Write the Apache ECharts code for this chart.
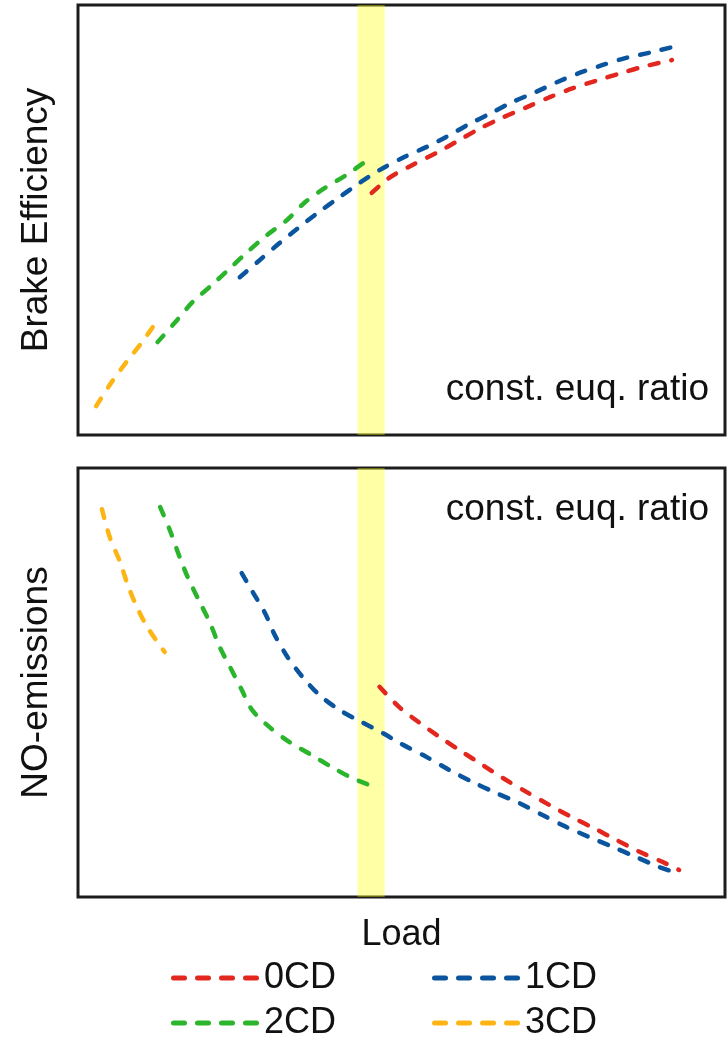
<!DOCTYPE html>
<html><head><meta charset="utf-8">
<script src="https://cdn.jsdelivr.net/npm/echarts@6/dist/echarts.min.js"></script>
<style>html,body{margin:0;padding:0;background:#fff}#c{width:728px;height:1037px}</style>
</head><body><div id="c"></div>
<script>
// Load axis in % of plotted range; responses in % of panel range
const seriesNames = ['0CD','1CD','2CD','3CD'];
const colors = ['#E2271E','#0B559E','#2BB52D','#FDB515'];
const highlightBand = [43.2, 47.4];

// Brake efficiency panel
const beLoad0 = [45.4,48.1,51.7,55.4,58.6,62.0,65.6,69.3,72.8,76.4,80.1,83.6,87.2,91.8];
const beVal0  = [56.3,59.8,62.8,65.6,68.3,71.2,73.8,76.2,78.5,80.6,82.4,84.0,85.6,87.2];
const beLoad1 = [25.0,28.1,31.2,34.0,37.0,40.4,43.5,46.6,50.5,53.9,56.9,60.2,63.9,67.1,70.8,74.1,77.5,81.0,84.7,88.3,91.8];
const beVal1  = [36.7,40.7,44.7,48.1,51.6,55.3,58.6,61.6,64.7,67.0,69.3,72.1,74.9,77.4,79.8,82.1,84.2,86.0,87.7,88.9,90.2];
const beLoad2 = [12.3,15.3,17.7,20.7,23.5,26.2,29.2,32.3,35.0,38.1,41.5,44.8];
const beVal2  = [21.6,26.7,30.9,34.9,38.8,42.6,46.5,50.0,54.0,57.4,60.5,64.0];
const beLoad3 = [2.8,5.2,7.6,9.9,12.3];
const beVal3  = [6.7,12.3,17.2,21.6,26.7];

// NO-emissions panel
const noLoad0 = [46.6,49.7,52.8,55.9,59.3,62.5,65.6,69.3,72.8,76.2,79.8,83.2,86.7,90.3,92.9];
const noVal0  = [49.0,44.2,40.6,37.3,33.9,30.8,27.8,24.5,21.5,18.7,16.0,13.3,10.6,8.2,6.3];
const noLoad1 = [25.3,27.0,28.9,30.4,32.4,34.7,37.3,40.4,43.8,47.1,49.7,53.9,57.4,61.0,64.7,68.2,71.8,75.5,79.0,82.6,86.3,89.8,92.6];
const noVal1  = [75.5,71.1,66.2,61.1,55.9,51.3,47.1,43.6,40.8,38.2,35.9,32.6,29.6,26.8,24.2,21.9,19.1,16.3,14.0,11.7,9.3,7.0,5.6];
const noLoad2 = [12.7,14.2,15.7,17.0,18.8,20.4,21.9,23.5,25.3,26.9,29.6,32.7,36.1,39.2,42.4,46.3];
const noVal2  = [90.9,85.5,79.3,74.4,68.8,63.9,58.3,53.6,48.3,43.6,39.6,36.1,33.1,30.3,27.7,25.4];
const noLoad3 = [3.7,4.9,6.5,7.7,9.1,10.8,13.4];
const noVal3  = [90.4,83.9,78.1,72.7,67.6,62.7,57.1];

const panelTitles = ['Brake Efficiency','NO-emissions'];
const xTitle = 'Load';
const note = 'const. euq. ratio';

const FONT = "'Liberation Sans', Arial, sans-serif";
const zip = (a,b) => a.map((v,i)=>[v,b[i]]);
const beSets = [[beLoad0,beVal0],[beLoad1,beVal1],[beLoad2,beVal2],[beLoad3,beVal3]];
const noSets = [[noLoad0,noVal0],[noLoad1,noVal1],[noLoad2,noVal2],[noLoad3,noVal3]];

// dashed legend icon: four rounded dashes
let dashPath = 'path://';
[0,24,48,72].forEach(x0=>{ dashPath += `M${x0+2.5},0h11a2.5,2.5 0 0 1 0,5h-11a2.5,2.5 0 0 1 0,-5Z`; });

function lineSeries(sets, gi){
  return sets.map((s,i)=>({
    name: seriesNames[i], type:'line', xAxisIndex:gi, yAxisIndex:gi,
    data: zip(s[0],s[1]), showSymbol:false, symbol:'none', smooth:0.3,
    color: colors[i], itemStyle:{color:colors[i]},
    lineStyle:{color:colors[i], width:4.5, type:[9,13], cap:'round'},
    z: 3
  }));
}
function bandSeries(gi){
  return {type:'line', xAxisIndex:gi, yAxisIndex:gi, data:[], silent:true, z:10,
    markArea:{silent:true, itemStyle:{color:'rgba(255,255,0,0.35)'},
      data:[[{xAxis:highlightBand[0]},{xAxis:highlightBand[1]}]]}};
}
const gridBase = {left:78, width:647, show:true, borderColor:'#1c1c1c', borderWidth:3, backgroundColor:'#fff'};
const axisX = (gi, name) => ({type:'value', gridIndex:gi, min:0, max:100,
  axisLine:{show:false}, axisTick:{show:false}, axisLabel:{show:false}, splitLine:{show:false},
  name: name||'', nameLocation:'middle', nameGap:20,
  nameTextStyle:{fontFamily:FONT, fontSize:36, color:'#111'}});
const axisY = (gi, name) => ({type:'value', gridIndex:gi, min:0, max:100,
  axisLine:{show:false}, axisTick:{show:false}, axisLabel:{show:false}, splitLine:{show:false},
  name, nameLocation:'middle', nameRotate:90, nameGap:23,
  nameTextStyle:{fontFamily:FONT, fontSize:37, color:'#111'}});
const legendBase = {itemWidth:88, itemHeight:5, itemGap:96, icon:dashPath,
  textStyle:{fontFamily:FONT, fontSize:36, color:'#111'}, left:166};

const chart = echarts.init(document.getElementById('c'), null, {renderer:'canvas'});
chart.setOption({
  animation:false,
  backgroundColor:'#fff',
  grid:[Object.assign({top:5, height:430}, gridBase), Object.assign({top:468, height:429}, gridBase)],
  xAxis:[axisX(0), axisX(1, xTitle)],
  yAxis:[axisY(0, panelTitles[0]), axisY(1, panelTitles[1])],
  legend:[
    Object.assign({top:955, data:['0CD','1CD']}, legendBase),
    Object.assign({top:1000, data:['2CD','3CD']}, legendBase)
  ],
  graphic:[
    {type:'text', right:19, top:371, style:{text:note, font:'37px '+FONT, fill:'#111'}},
    {type:'text', right:19, top:491, style:{text:note, font:'37px '+FONT, fill:'#111'}}
  ],
  series:[...lineSeries(beSets,0), ...lineSeries(noSets,1), bandSeries(0), bandSeries(1)]
});
</script></body></html>
